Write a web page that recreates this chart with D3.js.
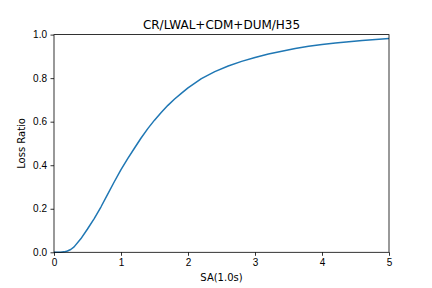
<!DOCTYPE html>
<html lang="en">
<head>
    <meta charset="UTF-8">
    <title>CR/LWAL+CDM+DUM/H35</title>
    <style>
        body { margin: 0; padding: 0; background: #fff; }
        svg { display: block; font-family: 'DejaVu Sans', sans-serif; }
        .axis path, .axis line { stroke: #000; stroke-width: 0.8; }
        .axis text { font-size: 10px; fill: #000; }
    </style>
    <script src="https://d3js.org/d3.v7.min.js"></script>
</head>
<body>
    <div id="chart"></div>
    <script>
        // values
        const saValues = [0, 0.1, 0.15, 0.2, 0.25, 0.3, 0.4, 0.5, 0.6, 0.7, 0.8, 0.9, 1.0,
            1.1, 1.2, 1.3, 1.4, 1.5, 1.6, 1.7, 1.8, 1.9, 2.0,
            2.2, 2.4, 2.6, 2.8, 3.0, 3.2, 3.4, 3.6, 3.8, 4.0,
            4.2, 4.4, 4.6, 4.8, 5.0];
        const lossRatio = [0, 0.0, 0.002, 0.006, 0.013, 0.025, 0.062, 0.107, 0.155, 0.208, 0.266, 0.324, 0.38,
            0.43, 0.478, 0.525, 0.568, 0.607, 0.642, 0.675, 0.704, 0.73, 0.755,
            0.798, 0.83, 0.856, 0.877, 0.895, 0.911, 0.924, 0.936, 0.946, 0.954,
            0.961, 0.967, 0.973, 0.978, 0.982];
        const xTicks = [0, 1, 2, 3, 4, 5];
        const yTicks = [0, 0.2, 0.4, 0.6, 0.8, 1.0];

        const width = 432, height = 288;
        const margin = { top: 34.6, right: 43, bottom: 35.7, left: 54 };

        const svg = d3.select("#chart").append("svg")
            .attr("width", width)
            .attr("height", height);

        const x = d3.scaleLinear().domain([0, 5]).range([margin.left, width - margin.right]);
        const y = d3.scaleLinear().domain([0, 1]).range([height - margin.bottom, margin.top]);

        const points = saValues.map((v, i) => [v, lossRatio[i]]);

        svg.append("path")
            .datum(points)
            .attr("fill", "none")
            .attr("stroke", "#1f77b4")
            .attr("stroke-width", 1.5)
            .attr("stroke-linejoin", "round")
            .attr("d", d3.line().x(d => x(d[0])).y(d => y(d[1])));

        // frame
        svg.append("rect")
            .attr("x", x(0))
            .attr("y", y(1))
            .attr("width", x(5) - x(0))
            .attr("height", y(0) - y(1))
            .attr("fill", "none")
            .attr("stroke", "#000")
            .attr("stroke-width", 0.8);

        const xAxis = svg.append("g")
            .attr("class", "axis")
            .attr("transform", `translate(0,${y(0)})`)
            .call(d3.axisBottom(x).tickValues(xTicks).tickFormat(d3.format("d")).tickSize(3.5).tickPadding(3.5));
        xAxis.select(".domain").remove();

        const yAxis = svg.append("g")
            .attr("class", "axis")
            .attr("transform", `translate(${x(0)},0)`)
            .call(d3.axisLeft(y).tickValues(yTicks).tickFormat(d3.format(".1f")).tickSize(3.5).tickPadding(3.5));
        yAxis.select(".domain").remove();

        svg.append("text")
            .attr("x", (x(0) + x(5)) / 2)
            .attr("y", 29)
            .attr("text-anchor", "middle")
            .attr("font-size", 12)
            .text("CR/LWAL+CDM+DUM/H35");

        svg.append("text")
            .attr("x", (x(0) + x(5)) / 2)
            .attr("y", 281)
            .attr("text-anchor", "middle")
            .attr("font-size", 10)
            .text("SA(1.0s)");

        svg.append("text")
            .attr("transform", `translate(25,${(y(0) + y(1)) / 2}) rotate(-90)`)
            .attr("text-anchor", "middle")
            .attr("font-size", 10)
            .text("Loss Ratio");
    </script>
</body>
</html>
